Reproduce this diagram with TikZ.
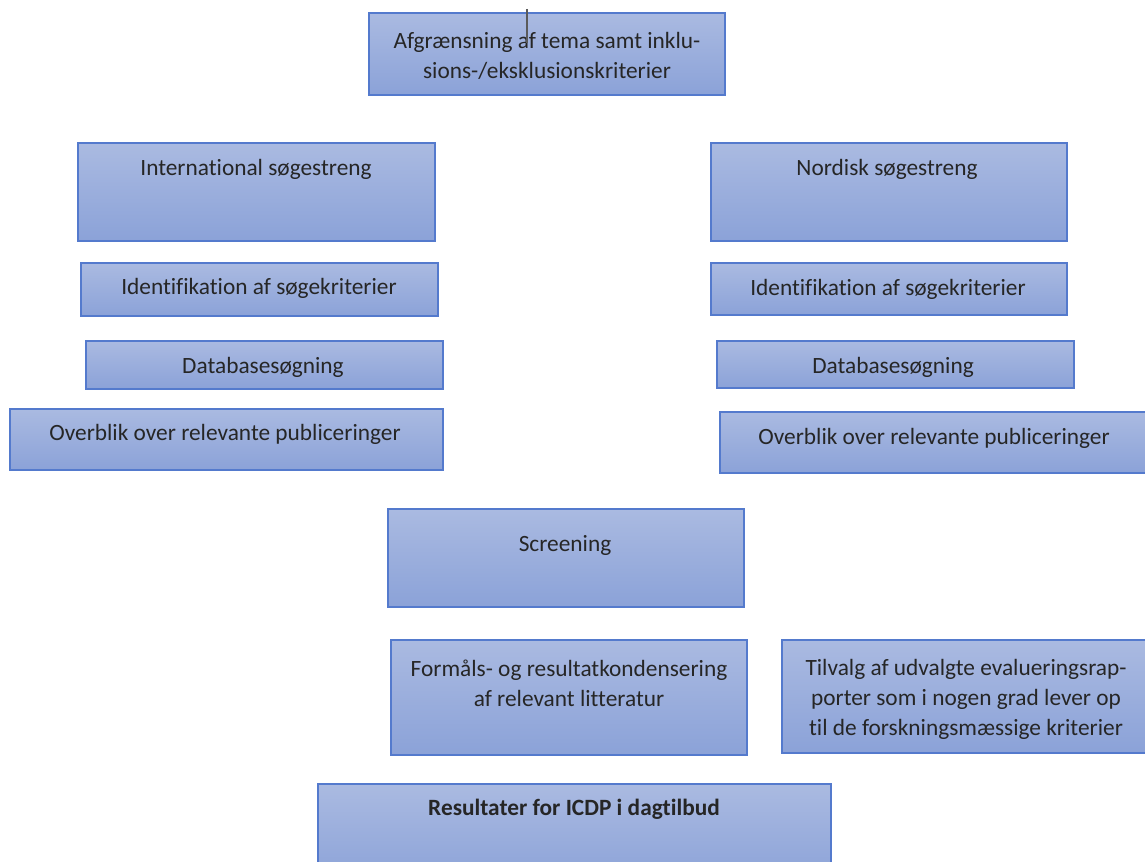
\documentclass[tikz,border=0pt]{standalone}
\usepackage{fontspec}
\setmainfont{Carlito}[Ligatures={NoCommon}]
\definecolor{boxtop}{RGB}{170,186,225}
\definecolor{boxbot}{RGB}{139,162,216}
\definecolor{boxline}{RGB}{84,122,205}
\definecolor{cursorc}{RGB}{90,90,90}
\tikzset{
  box/.style={draw=boxline, line width=0.9pt, top color=boxtop, bottom color=boxbot, rectangle, inner sep=0pt},
  lbl/.style={align=center, inner sep=0pt, font=\fontsize{17.5}{22.5}\selectfont, text=black!85},
}
\newcommand{\bx}[5]{% name, x1, y1, x2, y2
  \node[box, minimum width={(#4-#2)*0.75pt}, minimum height={(#5-#3)*0.75pt}] (#1) at ({(#2+#4)/2},{(#3+#5)/2}) {};}
\begin{document}
\begin{tikzpicture}[x=0.75pt,y=-0.75pt]
\useasboundingbox (0,0) rectangle (1145,862);
\clip (0,0) rectangle (1145,862);
\fill[white] (0,0) rectangle (1145,862);
% boxes
\bx{top}{369}{13}{725}{95}
\bx{intl}{78}{143}{435}{241}
\bx{idl}{81}{263}{438}{316}
\bx{dbl}{86}{341}{443}{389}
\bx{ovl}{10}{409}{443}{470}
\bx{nord}{711}{143}{1067}{241}
\bx{idr}{711}{263}{1067}{315}
\bx{dbr}{717}{341}{1074}{388}
\bx{ovr}{720}{412}{1149}{473}
\bx{scr}{388}{509}{744}{607}
\bx{form}{391}{640}{747}{755}
\bx{tilv}{782}{640}{1151}{753}
\bx{res}{318}{784}{831}{884}
% labels
\node[lbl] (top-t) at (547,55.5) {Afgrænsning af tema samt inklu-\\sions-/eksklusionskriterier};
\node[lbl] (intl-t) at (256,169) {International søgestreng};
\node[lbl] (idl-t) at (259,288) {Identifikation af søgekriterier};
\node[lbl] (dbl-t) at (263,367) {Databasesøgning};
\node[lbl] (ovl-t) at (225,434) {Overblik over relevante publiceringer};
\node[lbl] (nord-t) at (887,169) {Nordisk søgestreng};
\node[lbl] (idr-t) at (888,289) {Identifikation af søgekriterier};
\node[lbl] (dbr-t) at (893,367) {Databasesøgning};
\node[lbl] (ovr-t) at (934,438) {Overblik over relevante publiceringer};
\node[lbl] (scr-t) at (565,545) {Screening};
\node[lbl] (form-t) at (569,683.5) {Formåls- og resultatkondensering\\af relevant litteratur};
\node[lbl] (tilv-t) at (966,699) {Tilvalg af udvalgte evalueringsrap-\\porter som i nogen grad lever op\\til de forskningsmæssige kriterier};
\node[lbl, font=\fontsize{17.5}{22.5}\selectfont\bfseries] (res-t) at (574,809) {Resultater for ICDP i dagtilbud};
% text cursor mark
\draw[cursorc, line width=1.1pt] (527,9) -- (527,43);
\end{tikzpicture}
\end{document}
